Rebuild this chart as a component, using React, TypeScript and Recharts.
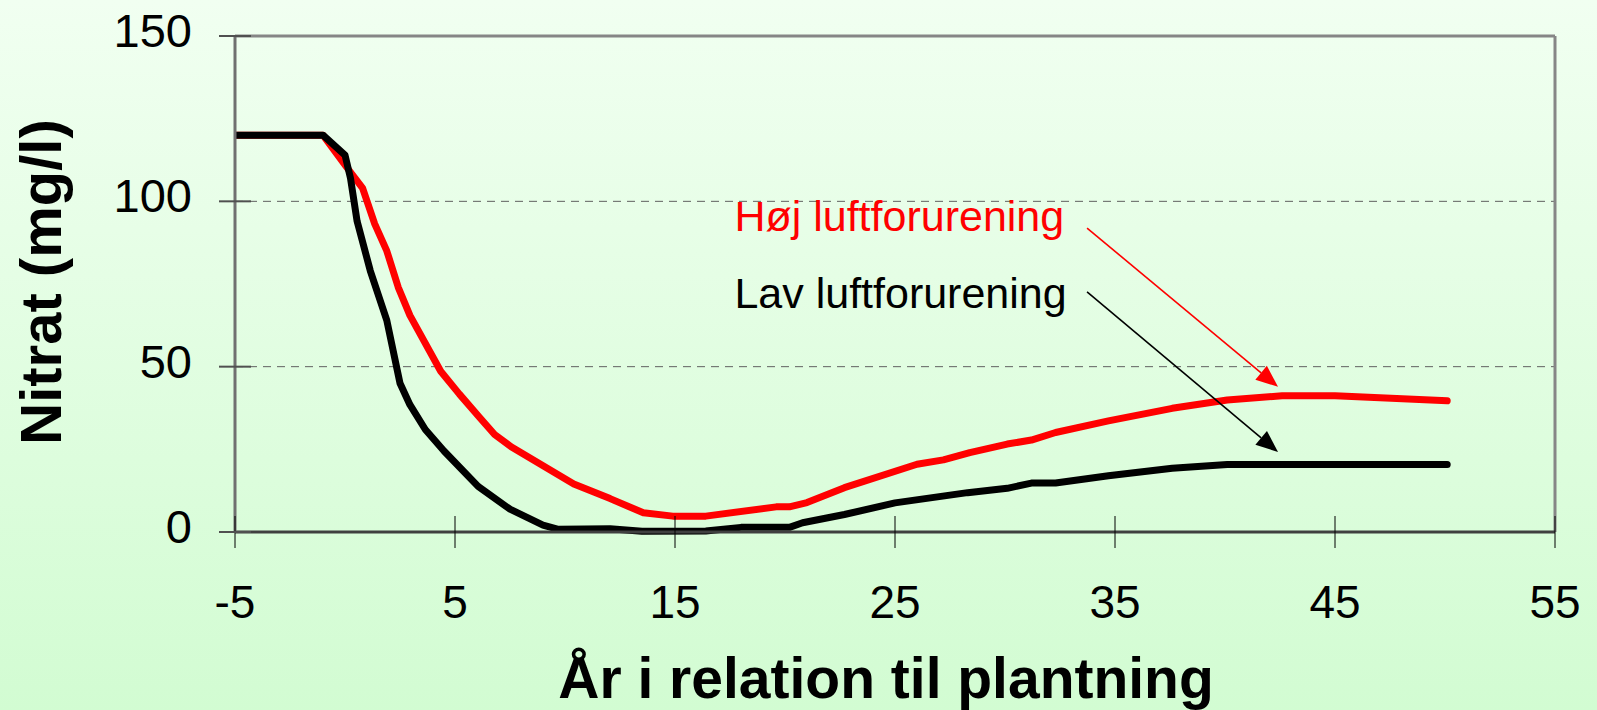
import React from "react";
import { LineChart, Line, XAxis, YAxis, ReferenceLine, ReferenceDot } from "recharts";

// Low air pollution (black)
const lowYears = [-5, -1, 0, 0.25, 0.55, 1.15, 1.9, 2.5, 2.95, 3.65, 4.5, 6.05, 7.5, 9.0, 9.7, 12.05, 13.5, 16.4, 18.0, 20.2, 20.8, 22.7, 25.0, 28.3, 30.1, 31.2, 32.3, 34.7, 37.6, 40.1, 50.1];
const lowNitrate = [120, 120, 114, 107, 94, 79, 64, 45, 38.5, 31, 24.5, 13.8, 6.9, 2.1, 0.8, 1.0, 0.2, 0.3, 1.4, 1.4, 2.8, 5.3, 8.8, 11.9, 13.2, 14.8, 14.8, 17.0, 19.3, 20.4, 20.4];

// High air pollution (red)
const highYears = [-5, -1, 0, 0.8, 1.35, 1.9, 2.42, 2.95, 4.35, 5.2, 6.1, 6.8, 7.55, 10.4, 12.05, 13.56, 14.9, 16.4, 19.6, 20.2, 21.0, 22.7, 26.0, 27.2, 28.4, 30.1, 31.2, 32.3, 34.7, 37.6, 40.1, 42.6, 45.0, 50.1];
const highNitrate = [120, 120, 111, 104, 93.2, 85, 74, 65.5, 48.6, 41.7, 34.8, 29.5, 25.8, 14.5, 10.1, 5.8, 4.8, 4.8, 7.6, 7.6, 8.9, 13.4, 20.5, 21.8, 24.0, 26.6, 27.8, 30.1, 33.6, 37.4, 39.9, 41.2, 41.2, 39.7];

const xTicks = [-5, 5, 15, 25, 35, 45, 55];
const yTicks = [0, 50, 100, 150];
const gridValues = [50, 100];

const xTitle = "År i relation til plantning";
const yTitle = "Nitrat (mg/l)";
const highLabel = "Høj luftforurening";
const lowLabel = "Lav luftforurening";

// annotation anchors (data coordinates)
const highLabelAt = { x: 17.7, y: 91.1 };
const lowLabelAt = { x: 17.7, y: 67.6 };
const highArrow = [{ x: 33.73, y: 91.9 }, { x: 42.41, y: 43.9 }];
const lowArrow = [{ x: 33.73, y: 72.6 }, { x: 42.41, y: 24.2 }];

const lowData = lowYears.map((x, i) => ({ x, v: lowNitrate[i] }));
const highData = highYears.map((x, i) => ({ x, v: highNitrate[i] }));

const FONT = '"Liberation Sans", Arial, Helvetica, sans-serif';

const XTick = (props: any) => {
  const { x, y, payload } = props;
  return (
    <g>
      <line x1={x} x2={x} y1={y - 16} y2={y + 16} stroke="#000" strokeWidth={1} />
      <text x={x} y={y + 86} textAnchor="middle" fontSize={46} fontFamily={FONT} fill="#000">
        {payload.value}
      </text>
    </g>
  );
};

const YTick = (props: any) => {
  const { x, y, payload } = props;
  return (
    <g>
      <line x1={x - 16} x2={x + 16} y1={y} y2={y} stroke="#505050" strokeWidth={2} />
      <text x={x - 43} y={y + 11} textAnchor="end" fontSize={47} fontFamily={FONT} fill="#000">
        {payload.value}
      </text>
    </g>
  );
};

const arrowShape = (color: string) => (props: any) => {
  const { x1, y1, x2, y2 } = props;
  const ang = Math.atan2(y2 - y1, x2 - x1);
  const L = 22;
  const W = 9;
  const bx = x2 - L * Math.cos(ang);
  const by = y2 - L * Math.sin(ang);
  const p1x = bx + W * Math.sin(ang);
  const p1y = by - W * Math.cos(ang);
  const p2x = bx - W * Math.sin(ang);
  const p2y = by + W * Math.cos(ang);
  return (
    <g>
      <line x1={x1} y1={y1} x2={bx} y2={by} stroke={color} strokeWidth={1.6} />
      <polygon points={`${x2},${y2} ${p1x},${p1y} ${p2x},${p2y}`} fill={color} />
    </g>
  );
};

const textShape = (label: string, color: string) => (props: any) => (
  <text x={props.cx} y={props.cy} fontSize={43} fontFamily={FONT} fill={color}>
    {label}
  </text>
);

export default function App() {
  return (
    <div
      style={{
        position: "fixed",
        left: 0,
        top: 0,
        width: 1597,
        height: 710,
        background: "linear-gradient(#f1fff1, #d2fcd2)",
      }}
    >
      <LineChart
        width={1597}
        height={710}
        margin={{ top: 36, right: 42, left: 0, bottom: 0 }}
      >
        <XAxis
          dataKey="x"
          type="number"
          domain={[-5, 55]}
          ticks={xTicks}
          interval={0}
          allowDataOverflow
          height={178}
          tickSize={0}
          tickMargin={0}
          tickLine={false}
          tick={<XTick />}
          axisLine={{ stroke: "#404040", strokeWidth: 3 }}
          label={{
            content: (p: any) => {
              const vb = p.viewBox;
              return (
                <text
                  x={vb.x + vb.width / 2 - 9}
                  y={vb.y + 166}
                  textAnchor="middle"
                  fontSize={57}
                  fontWeight="bold"
                  fontFamily={FONT}
                  fill="#000"
                >
                  {xTitle}
                </text>
              );
            },
          }}
        />
        <YAxis
          type="number"
          domain={[0, 150]}
          ticks={yTicks}
          interval={0}
          width={235}
          tickSize={0}
          tickMargin={0}
          tickLine={false}
          tick={<YTick />}
          axisLine={{ stroke: "#707070", strokeWidth: 3 }}
          label={{
            content: (p: any) => {
              const vb = p.viewBox;
              const cx = 61;
              const cy = vb.y + vb.height / 2 - 2;
              return (
                <text
                  x={cx}
                  y={cy}
                  transform={`rotate(-90, ${cx}, ${cy})`}
                  textAnchor="middle"
                  fontSize={58}
                  fontWeight="bold"
                  fontFamily={FONT}
                  fill="#000"
                >
                  {yTitle}
                </text>
              );
            },
          }}
        />
        {gridValues.map((g) => (
          <ReferenceLine key={g} y={g} stroke="#606060" strokeWidth={1} strokeDasharray="8 6" />
        ))}
        <ReferenceLine y={150} stroke="#868686" strokeWidth={3} />
        <ReferenceLine x={55} stroke="#868686" strokeWidth={3} />
        <Line
          data={highData}
          dataKey="v"
          stroke="#ff0000"
          strokeWidth={7}
          strokeLinecap="round"
          strokeLinejoin="round"
          dot={false}
          activeDot={false}
          isAnimationActive={false}
        />
        <Line
          data={lowData}
          dataKey="v"
          stroke="#000000"
          strokeWidth={7}
          strokeLinecap="round"
          strokeLinejoin="round"
          dot={false}
          activeDot={false}
          isAnimationActive={false}
        />
        <ReferenceLine segment={highArrow} shape={arrowShape("#ff0000")} />
        <ReferenceLine segment={lowArrow} shape={arrowShape("#000000")} />
        <ReferenceDot x={highLabelAt.x} y={highLabelAt.y} r={0} shape={textShape(highLabel, "#ff0000")} />
        <ReferenceDot x={lowLabelAt.x} y={lowLabelAt.y} r={0} shape={textShape(lowLabel, "#000000")} />
      </LineChart>
    </div>
  );
}
